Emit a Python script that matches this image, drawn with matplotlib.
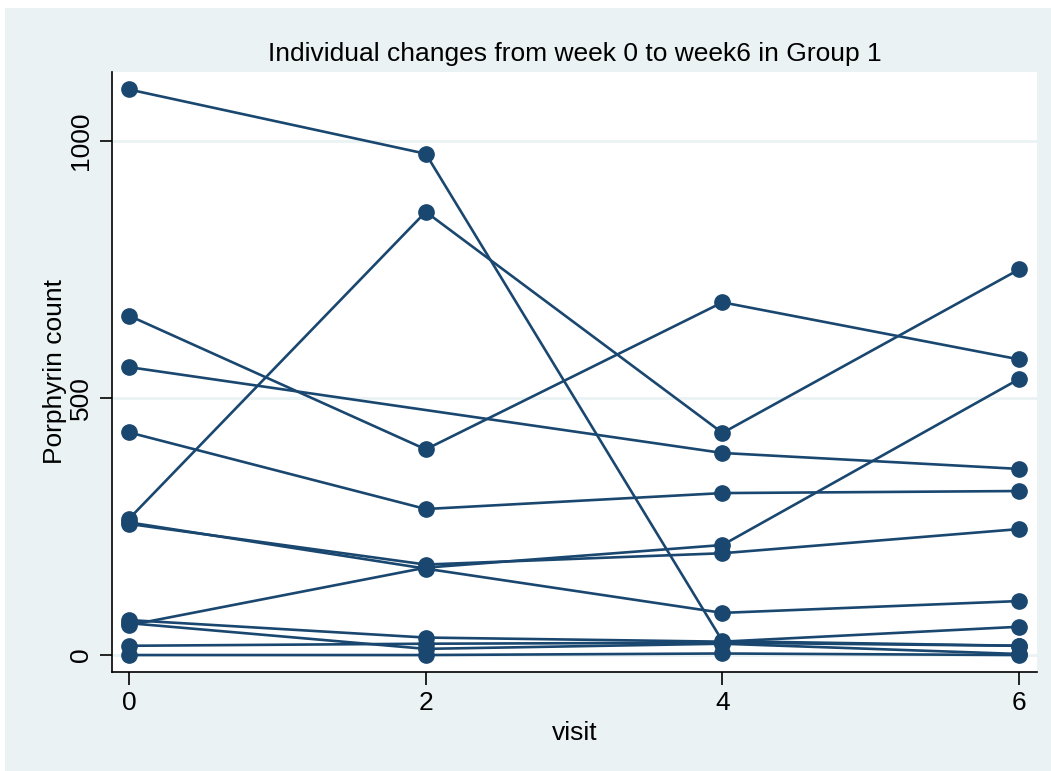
import numpy as np
import matplotlib.pyplot as plt
from matplotlib.patches import Rectangle

plt.rcParams['font.family'] = ['Liberation Sans', 'DejaVu Sans']

# porphyrin counts per subject at each visit (nan = not measured)
visits = np.array([0, 2, 4, 6])
subjects = {
    1: [1100, 975, 27, 18],
    2: [660, 400, 686, 575],
    3: [560, np.nan, 393, 362],
    4: [433, 284, 315, 319],
    5: [265, 862, 432, 750],
    6: [258, 168, 82, 105],
    7: [255, 176, 198, 245],
    8: [58, 170, 214, 537],
    9: [68, 34, 26, 55],
    10: [62, 12, 22, 2],
    11: [18, 22, 24, 18],
    12: [0, 0, 3, 0],
}
yticks = [0, 500, 1000]
xticks = [0, 2, 4, 6]

navy = '#1A476F'
bg = '#EAF2F3'
fs = 19

fig = plt.figure(figsize=(10.51, 7.71), dpi=100, facecolor='white')
# light graph region behind the plot area
fig.patches.append(Rectangle((5 / 1051, 0), 1, 1 - 8 / 771, transform=fig.transFigure,
                             facecolor=bg, edgecolor='none', zorder=-10))
ax = fig.add_axes([112 / 1051, 99 / 771, 925 / 1051, 600 / 771])
ax.set_facecolor('white')

for sid, vals in subjects.items():
    y = np.array(vals, dtype=float)
    ok = ~np.isnan(y)
    ax.plot(visits[ok], y[ok], color=navy, lw=1.9, marker='o', ms=11,
            mec=navy, mfc=navy, zorder=3)

ax.set_xlim(-0.115, 6.12)
ax.set_ylim(-33, 1134)
ax.set_xticks(xticks)
ax.set_yticks(yticks)
ax.set_yticklabels([str(t) for t in yticks], rotation=90, va='center')
ax.grid(axis='y', color=bg, lw=2)
ax.set_axisbelow(True)
for s in ['top', 'right']:
    ax.spines[s].set_visible(False)
for s in ['left', 'bottom']:
    ax.spines[s].set_linewidth(1.2)
ax.tick_params(axis='both', length=9, width=1.2, labelsize=fs, colors='black', pad=5)

ax.set_xlabel('visit', fontsize=fs, labelpad=4)
ax.set_ylabel('Porphyrin count', fontsize=fs, labelpad=1)
ax.set_title('Individual changes from week 0 to week6 in Group 1', fontsize=fs, pad=8)

fig.savefig('out.png', dpi=100, facecolor=fig.get_facecolor())
